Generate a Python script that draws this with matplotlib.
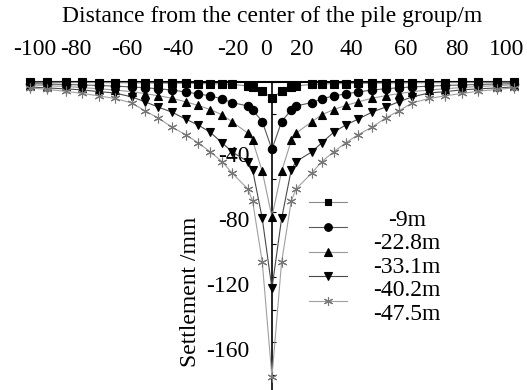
import matplotlib
matplotlib.use("Agg")
import matplotlib.pyplot as plt
from matplotlib.transforms import ScaledTranslation

plt.rcParams["font.family"] = ["Liberation Serif", "DejaVu Serif"]
plt.rcParams["font.size"] = 17

# distance from pile group center (m)
dist = [-100, -93, -85, -78.5, -71.5, -65, -58, -52.5, -47, -41.5, -35.5, -30.5,
        -25.5, -20.5, -16.5, -10, -8, -4, 0, 4, 8, 10, 16.5, 20.5, 25.5, 30.5,
        35.5, 41.5, 47, 52.5, 58, 65, 71.5, 78.5, 85, 93, 100]

# settlement (mm) for each excavation depth
s_9 = [-0.2, -0.25, -0.3, -0.35, -0.4, -0.45, -0.5, -0.6, -0.7, -0.8, -0.9, -1.0,
       -1.1, -1.3, -1.5, -2.5, -3.3, -5.8, -9.8, -5.8, -3.3, -2.5, -1.5, -1.3, -1.1,
       -1.0, -0.9, -0.8, -0.7, -0.6, -0.5, -0.45, -0.4, -0.35, -0.3, -0.25, -0.2]
s_228 = [-1.1, -1.3, -1.6, -1.9, -2.2, -2.6, -3.1, -3.6, -4.2, -5.0, -6.2, -7.4,
         -8.6, -10.5, -12.7, -14.8, -17.2, -24.4, -41.5, -24.4, -17.2, -14.8, -12.7,
         -10.5, -8.6, -7.4, -6.2, -5.0, -4.2, -3.6, -3.1, -2.6, -2.2, -1.9, -1.6, -1.3, -1.1]
s_331 = [-1.8, -2.3, -2.8, -3.5, -4.2, -5.0, -6.0, -7.2, -8.5, -10.0, -12.3, -14.5,
         -17.0, -20.3, -24.5, -31.5, -36.0, -55.0, -83.0, -55.0, -36.0, -31.5, -24.5,
         -20.3, -17.0, -14.5, -12.3, -10.0, -8.5, -7.2, -6.0, -5.0, -4.2, -3.5, -2.8, -2.3, -1.8]
s_402 = [-3.1, -3.7, -4.3, -4.9, -6.0, -6.8, -9.2, -12.2, -15.5, -18.5, -23.0, -26.5,
         -31.0, -37.6, -43.0, -49.0, -54.0, -84.0, -127.0, -84.0, -54.0, -49.0, -43.0,
         -37.6, -31.0, -26.5, -23.0, -18.5, -15.5, -12.2, -9.2, -6.8, -6.0, -4.9, -4.3, -3.7, -3.1]
s_475 = [-3.7, -4.6, -5.8, -7.1, -8.6, -10.2, -12.9, -17.8, -22.2, -27.7, -32.6, -37.5,
         -43.0, -49.2, -56.0, -65.8, -73.2, -110.8, -181.5, -110.8, -73.2, -65.8, -56.0,
         -49.2, -43.0, -37.5, -32.6, -27.7, -22.2, -17.8, -12.9, -10.2, -8.6, -7.1, -5.8, -4.6, -3.7]

labels = ["-9m", "-22.8m", "-33.1m", "-40.2m", "-47.5m"]
xtick_text = ["-100", "-80", "-60", "-40", "-20", "0", "20", "40", "60", "80", "100"]
ytick_vals = [-40, -80, -120, -160]

series = [s_9, s_228, s_331, s_402, s_475]
markers = ["s", "o", "^", "v", (6, 2, 0)]
sizes = [5.5, 6, 6, 6, 7]
line_cols = ["#8a8a8a", "#5a5a5a", "#9a9a9a", "#4a4a4a", "#a0a0a0"]
mk_cols = ["black", "black", "black", "black", "#777777"]

fig = plt.figure(figsize=(5.27, 3.9), dpi=100)
ax = fig.add_axes([0.057, 0.0, 0.918, 0.79])

for s, m, sz, lc, mc in zip(series, markers, sizes, line_cols, mk_cols):
    ax.plot(dist, s, color=lc, lw=0.8, marker=m, ms=sz,
            mfc=mc, mec=mc, mew=0.8, clip_on=False, zorder=3)

ax.set_xlim(-100, 100)
ax.set_ylim(-189.5, 0)

ax.spines["left"].set_position(("data", 0))
ax.spines["left"].set_linewidth(1.2)
ax.spines["top"].set_linewidth(1.5)
ax.spines["right"].set_visible(False)
ax.spines["bottom"].set_visible(False)

# x tick labels sit where they appear in the source figure
xtick_pos = [-98, -81, -60, -39, -16, -2.5, 12.5, 33, 55.5, 76.5, 97]
ax.xaxis.tick_top()
ax.set_xticks(xtick_pos, xtick_text)
ax.tick_params(axis="x", length=0, pad=16)
ax.xaxis.set_label_position("top")
ax.set_xlabel("Distance from the center of the pile group/m", labelpad=12)

ax.set_yticks(ytick_vals, [str(v) for v in ytick_vals])
ax.yaxis.set_minor_locator(plt.MultipleLocator(20))
ax.tick_params(axis="y", which="both", direction="in", length=3, width=0.8, pad=16)
off = ScaledTranslation(0, -5 / 72, fig.dpi_scale_trans)
for t in ax.get_yticklabels():
    t.set_transform(t.get_transform() + off)
fig.text(190 / 527, 1 - 292 / 390, "Settlement /mm", rotation=90,
         ha="center", va="center")

# manual legend: samples and labels are offset as in the source
for i, (lab, m, sz, lc, mc) in enumerate(zip(labels, markers, sizes, line_cols, mk_cols)):
    yl = 1 - (202 + 24.8 * i) / 390
    yt = 1 - (220 + 23.6 * i) / 390
    fig.add_artist(plt.Line2D([309 / 527, 347 / 527], [yl, yl], color=lc, lw=0.8,
                              transform=fig.transFigure))
    fig.add_artist(plt.Line2D([328 / 527], [yl], marker=m, ms=sz - 0.5, mfc=mc, mec=mc,
                              mew=0.8, transform=fig.transFigure))
    fig.text(407 / 527, yt, lab, ha="center", va="center")

fig.savefig("out.png", dpi=100)
